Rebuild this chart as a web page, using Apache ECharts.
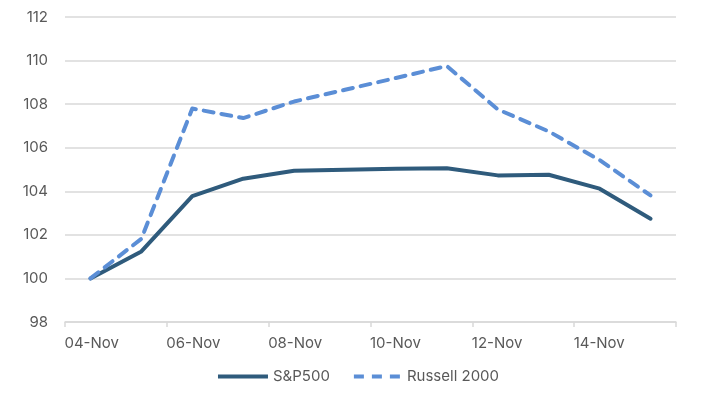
<!DOCTYPE html>
<html>
<head>
<meta charset="utf-8">
<script src="https://cdn.jsdelivr.net/npm/echarts@6/dist/echarts.min.js"></script>
<style>
  html, body { margin: 0; padding: 0; background: #fff; }
  #chart { width: 717px; height: 398px; }
</style>
</head>
<body>
<div id="chart"></div>
<script>
// days on the x axis
var days = ['04-Nov', '05-Nov', '06-Nov', '07-Nov', '08-Nov', '09-Nov',
            '10-Nov', '11-Nov', '12-Nov', '13-Nov', '14-Nov', '15-Nov'];
// indexed to 100 on 04-Nov
var sp500 = [100, 101.24, 103.78, 104.58, 104.94, 104.99, 105.03, 105.06, 104.73, 104.76, 104.12, 102.74];
var russell = [100, 101.82, 107.8, 107.36, 108.12, 108.66, 109.2, 109.75, 107.76, 106.75, 105.43, 103.81];
var yTicks = [98, 100, 102, 104, 106, 108, 110, 112];

var font = 'Inter, "Open Sans", sans-serif';
var myChart = echarts.init(document.getElementById('chart'));
var option = {
    animation: false,
    grid: {
        left: 65,
        right: 41,
        top: 17,
        bottom: 76
    },
    legend: {
        bottom: 9,
        left: 'center',
        itemWidth: 50,
        itemHeight: 4,
        itemGap: 24,
        textStyle: {
            color: '#595959',
            fontSize: 15,
            fontFamily: font
        },
        data: [{
            name: 'S&P500',
            icon: 'path://M0,0h50v4h-50z'
        }, {
            name: 'Russell 2000',
            icon: 'path://M2,0h10v4h-10z M20,0h10v4h-10z M38,0h10v4h-10z'
        }]
    },
    xAxis: {
        type: 'category',
        data: days,
        boundaryGap: true,
        axisLine: {
            show: true,
            lineStyle: { color: '#d9d9d9', width: 1.5 }
        },
        axisTick: {
            show: true,
            interval: 1,
            length: 5,
            lineStyle: { color: '#d9d9d9', width: 1.5 }
        },
        axisLabel: {
            interval: 1,
            align: 'left',
            padding: [0, 0, 0, -26],
            margin: 14,
            color: '#595959',
            fontSize: 15,
            fontFamily: font
        },
        splitLine: { show: false }
    },
    yAxis: {
        type: 'value',
        min: yTicks[0],
        max: yTicks[yTicks.length - 1],
        interval: 2,
        axisLine: { show: false },
        axisTick: { show: false },
        axisLabel: {
            margin: 17,
            color: '#595959',
            fontSize: 15,
            fontFamily: font
        },
        splitLine: {
            show: true,
            lineStyle: { color: '#d9d9d9', width: 1.5 }
        }
    },
    series: [{
        name: 'S&P500',
        type: 'line',
        data: sp500,
        symbol: 'none',
        color: '#2f5b7c',
        lineStyle: { width: 4, color: '#2f5b7c', cap: 'round', join: 'round' }
    }, {
        name: 'Russell 2000',
        type: 'line',
        data: russell,
        symbol: 'none',
        color: '#5b8ed6',
        lineStyle: { width: 4, color: '#5b8ed6', type: [10, 8], cap: 'round', join: 'round' }
    }]
};
myChart.setOption(option);
</script>
</body>
</html>
